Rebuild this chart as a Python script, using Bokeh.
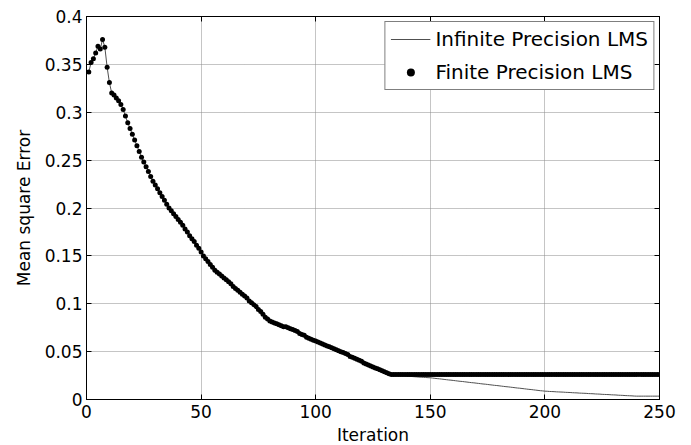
from bokeh.plotting import figure
from bokeh.models import Legend, LegendItem, LinearAxis, FixedTicker, ColumnDataSource
from bokeh.embed import file_html
from bokeh.resources import INLINE

# ---------------- data ----------------
iterations = list(range(1, 251))

finite_mse = [
    0.342, 0.352, 0.356, 0.362, 0.369, 0.366, 0.376, 0.368, 0.347, 0.331,
    0.320, 0.318, 0.315, 0.312, 0.308, 0.303, 0.296, 0.289, 0.283, 0.277,
    0.271, 0.265, 0.259, 0.253, 0.248, 0.243, 0.238, 0.233, 0.228, 0.224,
    0.220, 0.216, 0.212, 0.208, 0.204, 0.200, 0.197, 0.194, 0.191, 0.188,
    0.185, 0.182, 0.178, 0.175, 0.171, 0.168, 0.165, 0.161, 0.158, 0.154,
    0.150, 0.147, 0.144, 0.141, 0.138, 0.135, 0.133, 0.131, 0.129, 0.127,
    0.125, 0.123, 0.121, 0.118, 0.116, 0.114, 0.112, 0.110, 0.108, 0.106,
    0.103, 0.101, 0.099, 0.097, 0.094, 0.092, 0.089, 0.086, 0.084, 0.082,
    0.081, 0.080, 0.079, 0.078, 0.077, 0.076, 0.076, 0.075, 0.074, 0.073,
    0.072, 0.071, 0.069, 0.068, 0.067, 0.065, 0.064, 0.063, 0.062, 0.061,
    0.060, 0.059, 0.058, 0.057, 0.056, 0.055, 0.054, 0.053, 0.052, 0.051,
    0.050, 0.049, 0.048, 0.047, 0.045, 0.044, 0.043, 0.042, 0.041, 0.040,
    0.038, 0.037, 0.036, 0.035, 0.034, 0.033, 0.032, 0.031, 0.030, 0.029,
    0.028, 0.027, 0.026,
    0.026, 0.026, 0.026, 0.026, 0.026, 0.026, 0.026, 0.026, 0.026, 0.026,
    0.026, 0.026, 0.026, 0.026, 0.026, 0.026, 0.026, 0.026, 0.026, 0.026,
    0.026, 0.026, 0.026, 0.026, 0.026, 0.026, 0.026, 0.026, 0.026, 0.026,
    0.026, 0.026, 0.026, 0.026, 0.026, 0.026, 0.026, 0.026, 0.026, 0.026,
    0.026, 0.026, 0.026, 0.026, 0.026, 0.026, 0.026, 0.026, 0.026, 0.026,
    0.026, 0.026, 0.026, 0.026, 0.026, 0.026, 0.026, 0.026, 0.026, 0.026,
    0.026, 0.026, 0.026, 0.026, 0.026, 0.026, 0.026, 0.026, 0.026, 0.026,
    0.026, 0.026, 0.026, 0.026, 0.026, 0.026, 0.026, 0.026, 0.026, 0.026,
    0.026, 0.026, 0.026, 0.026, 0.026, 0.026, 0.026, 0.026, 0.026, 0.026,
    0.026, 0.026, 0.026, 0.026, 0.026, 0.026, 0.026, 0.026, 0.026, 0.026,
    0.026, 0.026, 0.026, 0.026, 0.026, 0.026, 0.026, 0.026, 0.026, 0.026,
    0.026, 0.026, 0.026, 0.026, 0.026, 0.026, 0.026,
]

# infinite precision follows the finite curve up to iteration 133, then keeps falling
infinite_tail = [
    0.0256, 0.0254, 0.0252, 0.0250, 0.0248, 0.0246, 0.0244, 0.0242, 0.0240, 0.0238,
    0.0236, 0.0234, 0.0233, 0.0231, 0.0230, 0.0228, 0.0227, 0.0224, 0.0221, 0.0218,
    0.0216, 0.0213, 0.0210, 0.0207, 0.0204, 0.0202, 0.0199, 0.0196, 0.0193, 0.0190,
    0.0188, 0.0185, 0.0182, 0.0179, 0.0176, 0.0174, 0.0171, 0.0168, 0.0165, 0.0162,
    0.0160, 0.0157, 0.0154, 0.0151, 0.0148, 0.0146, 0.0143, 0.0140, 0.0137, 0.0134,
    0.0132, 0.0129, 0.0126, 0.0123, 0.0120, 0.0118, 0.0115, 0.0112, 0.0109, 0.0106,
    0.0104, 0.0101, 0.0098, 0.0095, 0.0092, 0.0090, 0.0087, 0.0086, 0.0084, 0.0083,
    0.0082, 0.0080, 0.0079, 0.0078, 0.0077, 0.0075, 0.0074, 0.0073, 0.0071, 0.0070,
    0.0069, 0.0067, 0.0066, 0.0065, 0.0064, 0.0062, 0.0061, 0.0060, 0.0058, 0.0057,
    0.0056, 0.0054, 0.0053, 0.0052, 0.0051, 0.0049, 0.0048, 0.0047, 0.0045, 0.0044,
    0.0043, 0.0041, 0.0040, 0.0039, 0.0038, 0.0036, 0.0035, 0.0035, 0.0035, 0.0035,
    0.0035, 0.0035, 0.0035, 0.0035, 0.0035, 0.0035, 0.0035,
]
infinite_mse = finite_mse[:133] + infinite_tail

x_ticks = [0, 50, 100, 150, 200, 250]
y_ticks = [0, 0.05, 0.1, 0.15, 0.2, 0.25, 0.3, 0.35, 0.4]
y_tick_labels = ["0", "0.05", "0.1", "0.15", "0.2", "0.25", "0.3", "0.35", "0.4"]

series_names = ["Infinite Precision LMS", "Finite Precision LMS"]
x_label = "Iteration"
y_label = "Mean square Error"

# ---------------- figure ----------------
FONT = "DejaVu Sans"

p = figure(
    frame_width=573, frame_height=383,
    x_range=(0, 250), y_range=(0, 0.4),
    output_backend="svg", toolbar_location=None,
    min_border_left=86, min_border_right=32, min_border_top=16, min_border_bottom=46,
    background_fill_color="white", border_fill_color="white",
)
p.outline_line_color = "black"
p.outline_line_width = 1

p.xaxis.ticker = FixedTicker(ticks=x_ticks)
p.yaxis.ticker = FixedTicker(ticks=y_ticks)
p.yaxis.major_label_overrides = {t: s for t, s in zip(y_ticks, y_tick_labels)}
p.xaxis.axis_label = x_label
p.yaxis.axis_label = y_label

for ax in (p.xaxis, p.yaxis):
    ax.major_tick_in = 5
    ax.major_tick_out = 0
    ax.minor_tick_line_color = None
    ax.axis_line_color = "black"
    ax.major_tick_line_color = "black"
    ax.major_label_text_font = FONT
    ax.major_label_text_font_size = "17px"
    ax.major_label_text_color = "black"
    ax.axis_label_text_font = FONT
    ax.axis_label_text_font_size = "17px"
    ax.axis_label_text_font_style = "normal"
    ax.axis_label_text_color = "black"
p.xaxis.major_label_standoff = 5
p.yaxis.major_label_standoff = 4
p.xaxis.axis_label_standoff = 4
p.yaxis.axis_label_standoff = 8

# mirrored ticks on the top and right (box on); their labels are empty
top_ax = LinearAxis(ticker=FixedTicker(ticks=x_ticks),
                    major_label_overrides={t: "" for t in x_ticks},
                    major_label_standoff=0, major_tick_in=5, major_tick_out=0,
                    minor_tick_line_color=None, axis_line_color="black")
right_ax = LinearAxis(ticker=FixedTicker(ticks=y_ticks),
                      major_label_overrides={t: "" for t in y_ticks},
                      major_label_standoff=0, major_tick_in=5, major_tick_out=0,
                      minor_tick_line_color=None, axis_line_color="black")
p.add_layout(top_ax, "above")
p.add_layout(right_ax, "right")

p.xgrid.ticker = FixedTicker(ticks=x_ticks)
p.ygrid.ticker = FixedTicker(ticks=y_ticks)
p.grid.grid_line_color = "#8a8a8a"
p.grid.grid_line_dash = "1 1"
p.grid.grid_line_width = 1

src_inf = ColumnDataSource(data=dict(x=iterations, y=infinite_mse))
src_fin = ColumnDataSource(data=dict(x=iterations, y=finite_mse))

r_inf = p.line("x", "y", source=src_inf, line_color="#505050", line_width=1)
r_fin = p.scatter("x", "y", source=src_fin, marker="circle", size=5,
                  fill_color="black", line_color=None)

legend = Legend(
    items=[LegendItem(label=series_names[0], renderers=[r_inf]),
           LegendItem(label=series_names[1], renderers=[r_fin])],
    location="top_right",
    margin=5, padding=5, spacing=9,
    glyph_width=40, glyph_height=20, label_height=20, label_standoff=5,
    label_text_font=FONT, label_text_font_size="20px", label_text_color="black",
    border_line_color="black", border_line_width=1,
    background_fill_color="white", background_fill_alpha=1,
)
p.add_layout(legend, "center")

open("out.html", "w").write(file_html(p, INLINE))
